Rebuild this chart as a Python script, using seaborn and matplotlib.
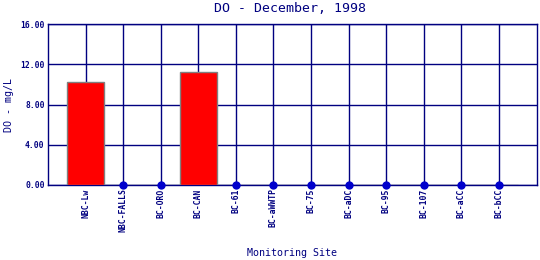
import matplotlib
matplotlib.use("Agg")
import matplotlib.pyplot as plt
import seaborn as sns
import pandas as pd
import numpy as np

sites = ["NBC-Lw", "NBC-FALLS", "BC-ORO", "BC-CAN", "BC-61", "BC-aWWTP",
         "BC-75", "BC-aDC", "BC-95", "BC-107", "BC-aCC", "BC-bCC"]
do_values = [10.25, 0, 0, 11.25, 0, 0, 0, 0, 0, 0, 0, 0]
yticks = [0, 4, 8, 12, 16]

title = "DO - December, 1998"
xlabel = "Monitoring Site"
ylabel = "DO - mg/L"

navy = "#000080"
dotc = "#0000CC"

sns.set_style("white")
plt.rcParams['font.family'] = ['DejaVu Sans Mono', 'DejaVu Sans']

df = pd.DataFrame({"site": sites, "value": do_values})
df["site"] = pd.Categorical(df["site"], categories=sites, ordered=True)

fig = plt.figure(figsize=(5.4, 2.6), dpi=100)
ax = fig.add_axes([48 / 540, 1 - 185 / 260, (536.5 - 48) / 540, (185 - 24.3) / 260])

sns.barplot(data=df, x="site", y="value", color="#FF0000", width=1.0,
            edgecolor="#808080", linewidth=1.0, saturation=1, ax=ax, zorder=3)

zeros = df[df["value"] == 0]
sns.scatterplot(x=zeros["site"].cat.codes, y=zeros["value"], color=dotc, s=36,
                edgecolor=dotc, linewidth=0, ax=ax, zorder=5, clip_on=False,
                legend=False)

ax.set_xlim(-1, len(sites))
ax.set_ylim(0, 16)
ax.set_yticks(yticks)
ax.set_yticklabels([f"{v:.2f}" for v in yticks], fontsize=5.8, fontweight="bold", color=navy)
ax.set_xticks(range(len(sites)))
ax.set_xticklabels(sites, rotation=90, fontsize=5.9, fontweight="bold", color=navy,
                   va="top", ha="center")
ax.tick_params(axis="both", length=0, pad=2.5)

for y in yticks:
    ax.axhline(y, color=navy, lw=1.0, zorder=1)
for x in range(len(sites)):
    ax.axvline(x, color=navy, lw=1.0, zorder=1)
for s in ax.spines.values():
    s.set_color(navy)
    s.set_linewidth(1.0)
    s.set_visible(True)

ax.set_xlabel("")
ax.set_ylabel("")

fig.text(290 / 540, 1 - 8.5 / 260, title, ha="center", va="center",
         fontsize=9.5, color=navy)
fig.text((48 + 536.5) / 2 / 540, 1 - 253 / 260, xlabel, ha="center", va="center",
         fontsize=7.2, color=navy)
fig.text(9 / 540, 1 - 105.5 / 260, ylabel, ha="center", va="center",
         rotation=90, fontsize=7.2, color=navy)

fig.savefig("out.png", dpi=100, facecolor="white")
